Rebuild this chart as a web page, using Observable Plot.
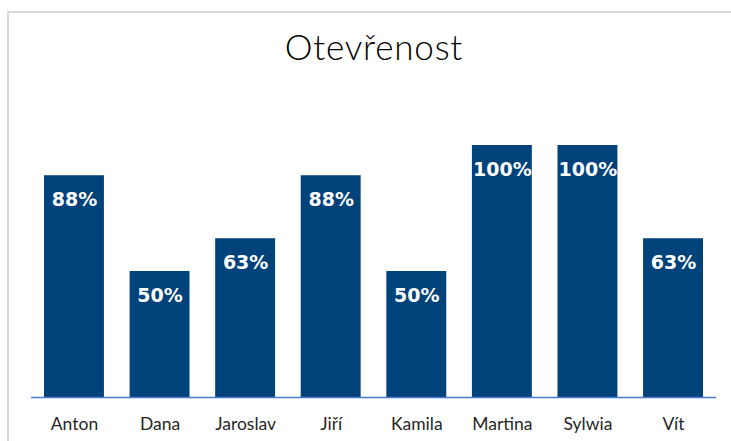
<!DOCTYPE html>
<html>
<head>
<meta charset="utf-8">
<script src="https://cdn.jsdelivr.net/npm/d3@7"></script>
<script src="https://cdn.jsdelivr.net/npm/@observablehq/plot@0.6"></script>
<style>
  html, body { margin: 0; padding: 0; background: #fff; }
  #wrap { position: relative; width: 731px; height: 441px; overflow: hidden; }
  #border { position: absolute; left: 7px; top: 11px; width: 800px; height: 500px; border: 2px solid #d9d9d9; box-sizing: border-box; }
  #title { position: absolute; left: 0; width: 748px; top: 25px; text-align: center; font-family: Lato, "Open Sans", sans-serif; font-size: 35px; color: #000; font-weight: 300; letter-spacing: 0.8px; }
  #chart { position: absolute; left: 0; top: 0; }
</style>
</head>
<body>
<div id="wrap">
  <div id="border"></div>
  <div id="title">Otevřenost</div>
  <div id="chart"></div>
</div>
<script>
const names = ["Anton", "Dana", "Jaroslav", "Jiří", "Kamila", "Martina", "Sylwia", "Vít"];
const values = [88, 50, 63, 88, 50, 100, 100, 63];

const data = names.map((n, i) => ({name: n, value: values[i]}));

const chart = Plot.plot({
  width: 731,
  height: 441,
  marginTop: 145,
  marginBottom: 44,
  marginLeft: 31,
  marginRight: 15,
  style: {background: "transparent", fontFamily: "Lato, sans-serif"},
  x: {domain: names, paddingInner: 0.3, paddingOuter: 0.152, round: false, label: null, tickSize: 0},
  y: {domain: [0, 100], axis: null},
  marks: [
    Plot.barY(data, {x: "name", y: "value", fill: "#00427a"}),
    Plot.ruleY([0], {stroke: "#4a7bd0", strokeWidth: 1.5}),
    Plot.text(data, {x: "name", y: "value", text: d => d.value + "%", fill: "white", dy: 24, fontSize: 19, fontWeight: "bold", fontFamily: "'DejaVu Sans', sans-serif"}),
    Plot.axisX({tickSize: 0, tickPadding: 20, fontSize: 17.5, label: null, fill: "#262626"})
  ]
});
document.getElementById("chart").appendChild(chart);
</script>
</body>
</html>
